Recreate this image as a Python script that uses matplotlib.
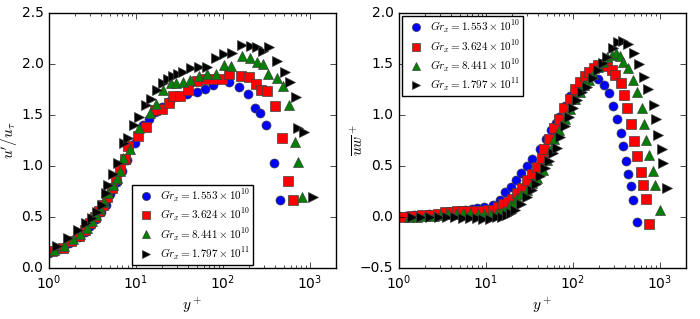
import numpy as np
import matplotlib
matplotlib.use('Agg')
import matplotlib.pyplot as plt

plt.style.use('classic')
plt.rcParams['mathtext.fontset'] = 'cm'
plt.rcParams['figure.facecolor'] = 'white'
plt.rcParams['savefig.facecolor'] = 'white'

labels = [r'$Gr_x=1.553\times10^{10}$', r'$Gr_x=3.624\times10^{10}$',
          r'$Gr_x=8.441\times10^{10}$', r'$Gr_x=1.797\times10^{11}$']
colors = ['b', 'r', 'g', 'k']
markers = ['o', 's', '^', '>']

# left panel: u'/u_tau
u_y1 = [1.0, 1.3, 1.7, 2.2, 2.6, 3.0, 3.5, 4.0, 4.5, 5.0, 5.5, 6.0, 7.0, 7.9, 9.7, 12.0, 14.1, 16.5,
        19.9, 24.6, 31, 38.6, 50, 62, 77, 117, 153, 194, 233, 266, 312, 386, 452]
u_v1 = [0.15, 0.19, 0.24, 0.30, 0.35, 0.41, 0.48, 0.55, 0.62, 0.72, 0.78, 0.84, 0.95, 1.06, 1.22, 1.40,
        1.46, 1.53, 1.58, 1.64, 1.68, 1.70, 1.72, 1.75, 1.79, 1.82, 1.77, 1.70, 1.57, 1.52, 1.40, 1.03, 0.67]
u_y2 = [1.08, 1.45, 1.8, 2.2, 2.6, 3.0, 3.4, 3.8, 4.2, 4.7, 5.3, 5.9, 6.6, 7.4, 8.1, 10.5, 13, 16.5, 20,
        24, 26.5, 32, 39.5, 50, 64, 79, 97, 117, 160, 199, 239, 272, 318, 395, 474, 560, 640]
u_v2 = [0.17, 0.20, 0.26, 0.31, 0.37, 0.44, 0.50, 0.56, 0.62, 0.70, 0.78, 0.87, 0.97, 1.07, 1.19, 1.29,
        1.38, 1.55, 1.56, 1.62, 1.68, 1.68, 1.745, 1.83, 1.85, 1.85, 1.85, 1.90, 1.88, 1.87, 1.80, 1.745,
        1.735, 1.59, 1.27, 0.85, 0.67]
u_y3 = [1.15, 1.5, 1.9, 2.3, 2.7, 3.1, 3.5, 3.9, 4.3, 4.8, 5.4, 6.0, 6.5, 7.1, 8.5, 10.8, 14.5, 16.9,
        20.5, 25, 28.9, 34.6, 41.6, 53, 65, 83, 102, 123, 165, 203, 245, 288, 330, 418, 490, 575, 670,
        740, 810]
u_v3 = [0.18, 0.22, 0.28, 0.33, 0.39, 0.46, 0.52, 0.58, 0.65, 0.73, 0.81, 0.88, 0.95, 1.08, 1.17, 1.37,
        1.52, 1.61, 1.745, 1.81, 1.81, 1.82, 1.84, 1.88, 1.90, 1.90, 1.99, 1.98, 2.08, 2.06, 2.02, 2.00,
        1.90, 1.86, 1.78, 1.60, 1.23, 1.04, 0.70]
u_y4 = [1.24, 1.65, 2.15, 2.66, 3.1, 3.6, 4.06, 4.5, 4.8, 5.5, 6.2, 7.3, 8.1, 9.5, 10.8, 13, 14.9, 17.4,
        20.4, 23.2, 26.6, 30.4, 34.7, 43, 53, 65, 83, 102, 127, 165, 210, 250, 288, 336, 418, 515, 590,
        690, 740, 850, 1080]
u_v4 = [0.22, 0.29, 0.37, 0.44, 0.49, 0.55, 0.62, 0.73, 0.81, 0.92, 1.03, 1.22, 1.27, 1.40, 1.48, 1.60,
        1.66, 1.74, 1.81, 1.85, 1.88, 1.90, 1.92, 1.96, 1.97, 1.97, 2.06, 2.10, 2.11, 2.18, 2.17, 2.16,
        2.13, 2.16, 2.03, 1.92, 1.82, 1.67, 1.37, 1.33, 0.70]

# right panel: uw+
w_y1 = [1.0, 1.2, 1.5, 1.8, 2.2, 2.7, 3.3, 4.0, 4.8, 5.8, 7.0, 7.9, 9.5, 12, 14.5, 16.5, 19.3, 22, 25,
        29.5, 33.8, 41.7, 49, 56, 64, 70, 81, 92, 106, 120, 140, 165, 194, 227, 262, 290, 320, 354, 375,
        405, 430, 465, 490, 545]
w_v1 = [0.01, 0.01, 0.02, 0.02, 0.03, 0.03, 0.04, 0.05, 0.06, 0.07, 0.08, 0.09, 0.10, 0.12, 0.17, 0.24,
        0.29, 0.36, 0.43, 0.50, 0.57, 0.67, 0.76, 0.85, 0.92, 0.98, 1.09, 1.18, 1.25, 1.31, 1.36, 1.39,
        1.35, 1.29, 1.21, 1.09, 0.96, 0.82, 0.69, 0.55, 0.42, 0.30, 0.17, -0.05]
w_y2 = [1.14, 1.4, 1.84, 2.3, 2.8, 3.4, 4.0, 4.6, 5.5, 6.5, 7.7, 9.0, 10.5, 12, 13.8, 15.7, 17.7, 19.9,
        22.7, 26, 29.7, 33.8, 38.5, 44, 46.5, 53, 60, 69, 78, 92, 106, 120, 137, 152, 174, 194, 220, 245,
        280, 308, 354, 385, 420, 465, 505, 545, 600, 640, 690, 760]
w_v2 = [0.0, 0.01, 0.02, 0.02, 0.03, 0.05, 0.05, 0.06, 0.06, 0.06, 0.06, 0.06, 0.07, 0.07, 0.10, 0.13,
        0.15, 0.18, 0.23, 0.28, 0.36, 0.42, 0.49, 0.58, 0.67, 0.76, 0.87, 0.96, 1.07, 1.16, 1.25, 1.32,
        1.38, 1.42, 1.46, 1.49, 1.50, 1.48, 1.44, 1.39, 1.31, 1.19, 1.07, 0.91, 0.74, 0.60, 0.44, 0.31,
        0.18, -0.07]
w_y3 = [1.3, 1.6, 2.0, 2.5, 3.0, 3.7, 4.5, 5.5, 6.6, 8.0, 9.5, 11.3, 13.4, 15, 16.5, 18.8, 20.8, 22.7,
        25.5, 29.5, 33.8, 38.5, 45, 50, 56, 60, 70, 81, 92, 106, 120, 133, 152, 170, 194, 220, 245, 280,
        310, 346, 375, 430, 490, 545, 620, 650, 700, 760, 830, 890, 1000]
w_v3 = [0.0, 0.0, 0.01, 0.01, 0.02, 0.03, 0.03, 0.04, 0.04, 0.03, 0.03, 0.03, 0.04, 0.05, 0.07, 0.12,
        0.15, 0.19, 0.22, 0.26, 0.33, 0.38, 0.46, 0.56, 0.67, 0.76, 0.85, 0.96, 1.06, 1.16, 1.22, 1.29,
        1.34, 1.40, 1.47, 1.52, 1.57, 1.59, 1.61, 1.58, 1.52, 1.46, 1.34, 1.22, 1.07, 0.91, 0.75, 0.61,
        0.45, 0.31, 0.07]
w_y4 = [1.4, 1.8, 2.3, 2.9, 3.6, 4.4, 5.4, 6.5, 7.8, 9.3, 11.2, 13.4, 15.5, 17.4, 19.5, 21.5, 25, 29.5,
        33.8, 37.5, 41.7, 47.5, 53, 59, 65, 72, 81, 90, 99, 111, 127, 144, 170, 194, 220, 250, 290, 330,
        375, 430, 505, 580, 660, 730, 850, 905, 950, 1050, 1100, 1200]
w_v4 = [0.0, 0.0, 0.0, 0.0, 0.0, 0.0, -0.01, -0.01, -0.01, -0.02, -0.02, 0.0, 0.0, 0.02, 0.04, 0.07,
        0.13, 0.20, 0.26, 0.32, 0.40, 0.48, 0.55, 0.63, 0.68, 0.78, 0.89, 0.98, 1.07, 1.15, 1.22, 1.27,
        1.36, 1.44, 1.51, 1.57, 1.65, 1.71, 1.72, 1.69, 1.61, 1.50, 1.37, 1.25, 1.10, 0.96, 0.80, 0.67,
        0.53, 0.28]

u_data = [(u_y1, u_v1), (u_y2, u_v2), (u_y3, u_v3), (u_y4, u_v4)]
w_data = [(w_y1, w_v1), (w_y2, w_v2), (w_y3, w_v3), (w_y4, w_v4)]

fig = plt.figure(figsize=(7.0, 3.19), dpi=100)
ax1 = fig.add_axes([0.07, 0.16, 0.41, 0.80])
ax2 = fig.add_axes([0.57, 0.16, 0.41, 0.80])

for ax, data in [(ax1, u_data), (ax2, w_data)]:
    for (x, y), c, m, lab in zip(data, colors, markers, labels):
        ax.plot(x, y, linestyle='none', marker=m, color=c, markersize=6.5,
                markeredgecolor='0.25', markeredgewidth=0.5, label=lab)
    ax.set_xscale('log')
    ax.set_xlim(1, 2000)
    ax.set_xlabel(r'$y^+$', fontsize=11, labelpad=3)
    ax.tick_params(labelsize=10)

ax1.set_ylim(0, 2.5)
ax1.set_yticks([0.0, 0.5, 1.0, 1.5, 2.0, 2.5])
ax1.set_ylabel(r"$u'/u_\tau$", fontsize=11, labelpad=1)
ax2.set_ylim(-0.5, 2.0)
ax2.set_yticks([-0.5, 0.0, 0.5, 1.0, 1.5, 2.0])
ax2.set_ylabel(r'$\overline{uw}^+$', fontsize=11, labelpad=-4)

ax1.legend(loc='lower center', numpoints=1, fontsize=8, borderaxespad=0.3,
           handletextpad=0.2, labelspacing=0.25, borderpad=0.25, markerscale=0.9)
ax2.legend(loc='upper left', numpoints=1, fontsize=8, borderaxespad=0.3,
           handletextpad=0.2, labelspacing=0.25, borderpad=0.25, markerscale=0.9)

fig.savefig('out.png', dpi=100)
